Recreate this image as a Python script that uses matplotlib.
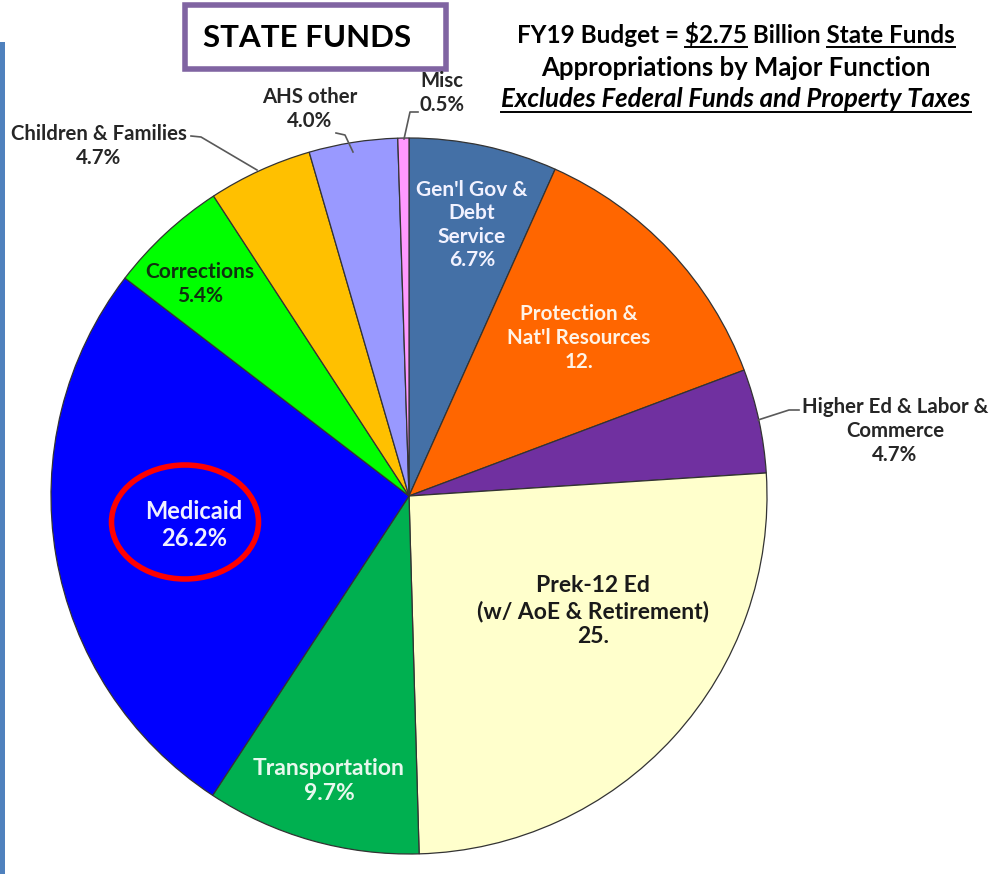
import matplotlib
matplotlib.use("Agg")
import matplotlib.pyplot as plt
from matplotlib.patches import Ellipse, Rectangle

plt.rcParams['font.family'] = ['Lato', 'DejaVu Sans']

# slices, clockwise from 12 o'clock
categories = ["Gen'l Gov & Debt Service", "Protection & Nat'l Resources",
              "Higher Ed & Labor & Commerce", "Prek-12 Ed (w/ AoE & Retirement)",
              "Transportation", "Medicaid", "Corrections", "Children & Families",
              "AHS other", "Misc"]
shares = [6.7, 12.6, 4.7, 25.6, 9.7, 26.2, 5.4, 4.7, 4.0, 0.5]
labels = ["Gen'l Gov &\nDebt\nService\n6.7%", "Protection &\nNat'l Resources\n12.",
          "Higher Ed & Labor &\nCommerce\n4.7%", "Prek-12 Ed\n(w/ AoE & Retirement)\n25.",
          "Transportation\n9.7%", "Medicaid\n26.2%", "Corrections\n5.4%",
          "Children & Families\n4.7%", "AHS other\n4.0%", "Misc\n0.5%"]
colors = ['#4470A6', '#FF6600', '#7030A0', '#FFFFCC', '#00B050',
          '#0000FF', '#00FF00', '#FFC000', '#9999FF', '#FF99FF']

# label placement (pixel coords, y down) and styling
label_xy = [(472, 225), (579, 338), (895, 431), (593, 611), (329, 781),
            (194, 525), (200, 284), (99, 146), (310, 109), (442, 93)]
label_color = ['#F2F2FF', '#FFF3E6', '#262626', '#1A1A1A', '#E8F8EE',
               '#F0F0FF', '#103010', '#262626', '#262626', '#262626']
label_size = [15, 14.9, 14.7, 16.5, 16.5, 17, 15, 14.7, 14.7, 14.6]
leaders = {2: [(758, 420), (789, 410), (799, 410)],
           7: [(191, 136), (201, 137), (257, 170)],
           8: [(336, 133), (345, 135), (353, 152)],
           9: [(418, 112), (410, 112), (404, 139)]}

title_lines = ["FY19 Budget = $2.75 Billion State Funds",
               "Appropriations by Major Function",
               "Excludes Federal Funds and Property Taxes"]

fig = plt.figure(figsize=(9.9, 8.74), dpi=100)
ax = fig.add_axes([0, 0, 1, 1])

ax.pie(shares, colors=colors, startangle=-90, counterclock=True,
       center=(409, 496), radius=358,
       wedgeprops=dict(edgecolor='#333333', linewidth=0.9))
ax.set_xlim(0, 990)
ax.set_ylim(874, 0)
ax.set_aspect('equal')
ax.axis('off')

for i, lab in enumerate(labels):
    ax.text(label_xy[i][0], label_xy[i][1], lab, ha='center', va='center',
            fontsize=label_size[i], fontweight='bold', color=label_color[i],
            linespacing=1.22)
for i, pts in leaders.items():
    xs, ys = zip(*pts)
    ax.plot(xs, ys, color='#595959', lw=1.2)

ax.add_patch(Ellipse((185, 522), 147, 114, fill=False, edgecolor='#FF0000', lw=4))

# left accent bar and title box
ax.add_patch(Rectangle((0, 42), 5, 832, color='#4F81BD', lw=0))
ax.add_patch(Rectangle((185, 5), 261, 64, fill=False, edgecolor='#8064A2', lw=4))
ax.text(307, 38, "STATE FUNDS", ha='center', va='center', fontsize=22.5,
        fontweight='bold', color='black')

# title with underlines
renderer = fig.canvas.get_renderer()


def width(s, **kw):
    t = ax.text(0, 0, s, **kw)
    w = t.get_window_extent(renderer).width
    t.remove()
    return w


cx = 736
kw1 = dict(fontsize=17.5, fontweight='bold', parse_math=False)
kw2 = dict(fontsize=18.5, fontweight='bold')
kw3 = dict(fontsize=18.5, fontweight='bold', style='italic')
ys = [43, 76, 107]
ax.text(cx, ys[0], title_lines[0], ha='center', va='baseline', **kw1)
ax.text(cx, ys[1], title_lines[1], ha='center', va='baseline', **kw2)
ax.text(cx, ys[2], title_lines[2], ha='center', va='baseline', **kw3)

w0 = width(title_lines[0], **kw1)
left0 = cx - w0 / 2
for sub, pre in [("$2.75", "FY19 Budget = $2.75"),
                 ("State Funds", title_lines[0])]:
    x1 = left0 + width(pre, **kw1)
    x0 = x1 - width(sub, **kw1)
    ax.plot([x0, x1], [ys[0] + 4, ys[0] + 4], color='black', lw=1.4)
w2 = width(title_lines[2], **kw3)
ax.plot([cx - w2 / 2, cx + w2 / 2], [ys[2] + 5, ys[2] + 5], color='black', lw=1.4)

fig.savefig('out.png', dpi=100)
